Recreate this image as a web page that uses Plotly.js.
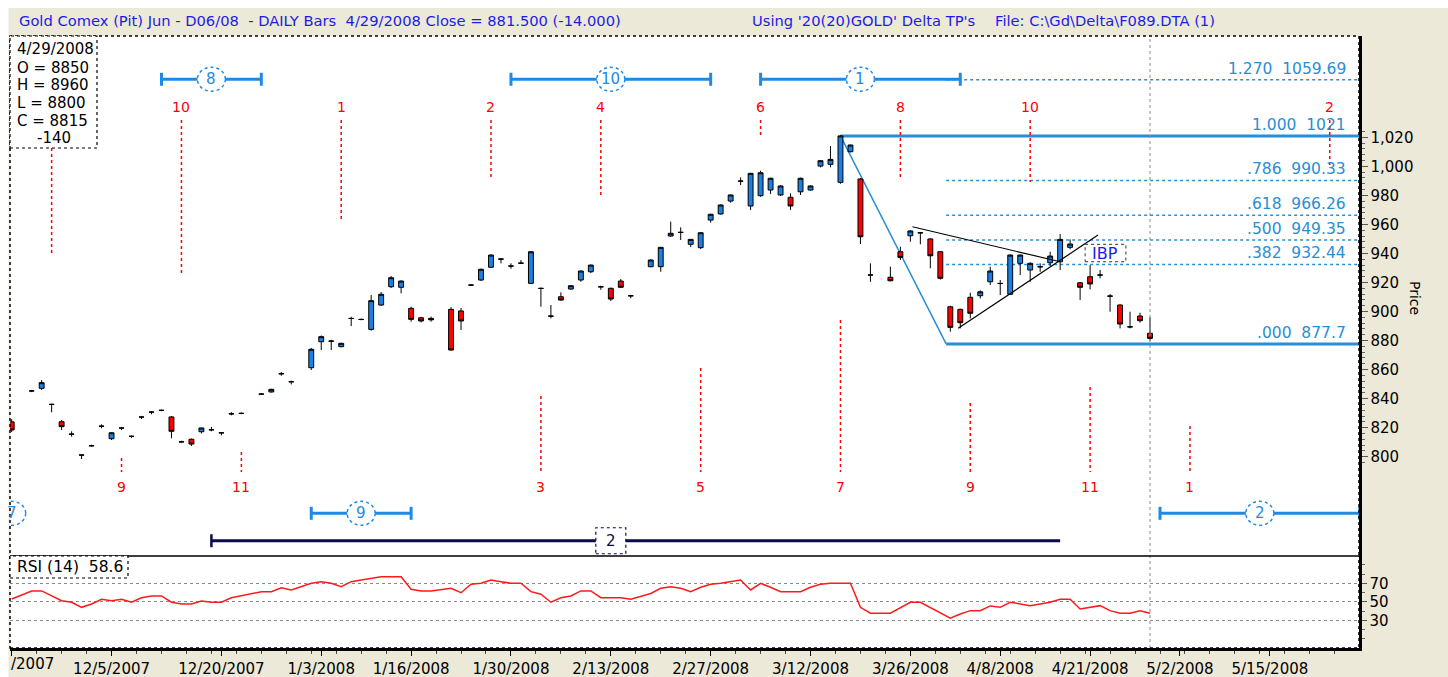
<!DOCTYPE html>
<html><head><meta charset="utf-8">
<script src="https://cdn.plot.ly/plotly-3.0.1.min.js"></script>
<style>html,body{margin:0;padding:0;background:#fff;}#chart{width:1448px;height:677px;}</style>
</head><body><div id="chart"></div>
<script>
// ---------------- DATA ----------------
const dates = ['2007-11-21','2007-11-23','2007-11-26','2007-11-27','2007-11-28','2007-11-29','2007-11-30',
'2007-12-03','2007-12-04','2007-12-05','2007-12-06','2007-12-07',
'2007-12-10','2007-12-11','2007-12-12','2007-12-13','2007-12-14',
'2007-12-17','2007-12-18','2007-12-19','2007-12-20','2007-12-21',
'2007-12-24','2007-12-26','2007-12-27','2007-12-28','2007-12-31',
'2008-01-02','2008-01-03','2008-01-04',
'2008-01-07','2008-01-08','2008-01-09','2008-01-10','2008-01-11',
'2008-01-14','2008-01-15','2008-01-16','2008-01-17','2008-01-18',
'2008-01-22','2008-01-23','2008-01-24','2008-01-25',
'2008-01-28','2008-01-29','2008-01-30','2008-01-31','2008-02-01',
'2008-02-04','2008-02-05','2008-02-06','2008-02-07','2008-02-08',
'2008-02-11','2008-02-12','2008-02-13','2008-02-14','2008-02-15',
'2008-02-19','2008-02-20','2008-02-21','2008-02-22',
'2008-02-25','2008-02-26','2008-02-27','2008-02-28','2008-02-29',
'2008-03-03','2008-03-04','2008-03-05','2008-03-06','2008-03-07',
'2008-03-10','2008-03-11','2008-03-12','2008-03-13','2008-03-14',
'2008-03-17','2008-03-18','2008-03-19','2008-03-20',
'2008-03-24','2008-03-25','2008-03-26','2008-03-27','2008-03-28',
'2008-03-31','2008-04-01','2008-04-02','2008-04-03','2008-04-04',
'2008-04-07','2008-04-08','2008-04-09','2008-04-10','2008-04-11',
'2008-04-14','2008-04-15','2008-04-16','2008-04-17','2008-04-18',
'2008-04-21','2008-04-22','2008-04-23','2008-04-24','2008-04-25',
'2008-04-28','2008-04-29'];

const openP = [824,845.3,847.1,836.1,824.1,815.6,801.2,
807.6,821.1,812.4,819.8,814.1,
827.4,830.8,832,827.4,810.3,
812,817.2,818.6,816.5,829.6,
829.9,843.2,844.6,857.2,851.7,
861.3,879.2,879.7,
875.8,895.3,894.6,887.7,904.5,
917.1,916.7,902.2,895.7,895.3,
901.5,900.4,918.3,921.7,
930.5,936.2,931.4,933.4,919.4,
916,896.9,910.2,915.5,921.7,
927.4,917.1,916,921,910.9,
930.9,930.9,952,954.6,
946.3,944,963,967.2,976.1,
989.9,972.7,979.8,983.7,980.3,
978.7,982.5,983.7,1000.2,1001.4,
989,1010.1,991.3,925.2,
923.6,941.2,952.2,954.3,950,
941.2,903.3,901.5,909.8,910.9,
920.5,919.4,911.9,933.2,928.6,
930.9,933.6,934.3,944.2,919.8,
924,925.2,910.7,904.5,889.5,
896.9,885];

const highP = [826,846,852.8,836.6,825.3,817.5,801.6,
808.3,822.3,817,820.5,814.5,
828.1,831.5,832.5,828,811,
812.5,820,820.5,817,830.7,
830.5,843.8,846.8,858.3,852.4,
874.9,883.5,880.5,
878.5,896.4,895.2,911.4,913.4,
924.5,921.5,903.3,896.4,896.5,
903,902.4,918.8,929.6,
939.5,936.8,933.2,935.5,941.5,
916.5,904.5,913.2,918.2,928.3,
932.4,917.8,916.5,922.4,911.5,
936,944.5,961.9,958,
950,954.6,967.4,973.8,980.6,
992.4,995.5,997,992.2,986.9,
981.4,992.2,986.9,1004.3,1014,
1021.5,1015,992,933.2,
930.9,944.6,956,954.8,950.5,
941.7,904,902,913,914.6,
930.9,921.7,939.5,939.3,934,
933.2,941.2,953.4,949.7,920.3,
932,928.6,912.1,905,899.9,
899.2,896];

const lowP = [817,844.5,846,830.6,818.4,813.8,798.4,
806.8,819.6,811.5,818.4,813,
826,829.2,831.3,812.7,809.6,
807.4,816,817.5,814.7,828.5,
829.3,842.6,844.2,855.8,849.8,
859.7,873.5,873.5,
875.3,890,894,886.8,903.8,
916.2,912.5,893,892.5,893,
873,887.3,917.6,921,
930,933.2,929.5,933,919,
903.3,895.3,907.5,915,920.5,
926.5,915,907.2,916.2,909.2,
930.5,927.4,951.5,949.3,
944.4,943,961.2,966.8,975,
987.1,969.9,979,981,979.6,
970,980.3,983.3,999.3,999.3,
988,1009.6,946.5,920.5,
920.8,935.5,948.1,946.3,929.8,
922,886.1,888.4,895.3,909,
918.3,911.4,911.4,925.2,920.5,
927.4,931.4,928.6,942.9,908,
915.3,922.9,899.9,888.4,888.4,
892.3,880];

const closeP = [818.4,845.3,851,836,820.7,815.5,801.1,
807.5,821,816.5,819.7,814,
827.3,830.7,831.9,817.5,810.2,
808.7,819.8,818.5,816.4,829.5,
829.8,843.1,846.4,857.1,851.6,
874,882.7,879.6,
878.1,895.2,894.5,907.5,911.9,
923.3,921,894.6,893.5,894.3,
873.5,893.5,918.2,929.1,
938.9,936.1,931.3,933.3,941.2,
915.9,896.8,907.9,917.8,927.9,
932,917,908.6,916.7,910.8,
935.5,944.2,953.9,954.5,
949.7,954.3,967,973.4,980.3,
989.8,995.2,995.6,991.8,986.5,
972.7,991.8,986.5,1003.9,1004.8,
1021,1014.7,951.5,925.1,
921.2,937.3,955.5,954.2,938.4,
922.9,889.1,892.3,898.8,913.6,
927.9,919.3,938.9,938.9,933.2,
930.8,938.2,949.7,946.5,916.7,
919,925.1,910.6,891.4,889.4,
893.7,881.5];

const rsi14 = [53,61.7,61.7,56,51.2,49.5,44,
47.6,52.7,51.2,52.7,49.5,
54.4,56.3,56.3,49.5,47.6,
47.6,50.9,49.5,49.5,54.4,
56.3,60.9,60.9,65.2,62.8,
70,71.7,70,
66.3,71.7,73.6,75.4,77.1,
77.1,77.1,63.5,61.7,61.7,
64.6,59.8,68.9,70,
73.6,71.7,70,70,60.9,
58.1,49.5,54.4,56.3,61.7,
61.7,54.4,54.4,54.4,52.7,
59,64.6,66.3,64.6,
60.9,65.7,68.9,70,71.7,
73.6,62.8,70,65.7,60.9,
60.9,60.9,65.7,68.9,70,
70,70,44,37.6,
37.6,44,49.5,49.5,44,
38.2,32.2,36.8,40.4,40.4,
45.5,44,49.5,47.6,45.8,
47.6,49.5,52.7,52.7,42.2,
44,45.8,40.4,37.6,37.6,
40.4,37.6];

// x-axis tick labels (the first one is only partly visible in the original: "/2007")
const tickDates  = ['2007-11-21','2007-12-05','2007-12-20','2008-01-03','2008-01-16','2008-01-30','2008-02-13','2008-02-27','2008-03-12','2008-03-26','2008-04-08','2008-04-21','2008-05-02','2008-05-15'];
const tickLabels = ['/2007','12/5/2007','12/20/2007','1/3/2008','1/16/2008','1/30/2008','2/13/2008','2/27/2008','3/12/2008','3/26/2008','4/8/2008','4/21/2008','5/2/2008','5/15/2008'];
const priceTicks = [800,820,840,860,880,900,920,940,960,980,1000,1020];
const rsiTicks = [30,50,70];

// Delta turning points (top row)
const tpTopDates  = ['2007-11-27','2007-12-14','2008-01-07','2008-01-28','2008-02-12','2008-03-05','2008-03-25','2008-04-11','2008-05-23'];
const tpTopLabels = ['','10','1','2','4','6','8','10','2'];
const tpTopFrom   = [1012.6,1031.9,1031.9,1031.9,1031.9,1031.9,1031.9,1031.9,1031.9];
const tpTopTo     = [938.2,925.2,961.7,990.6,980.3,1020.2,992,989.2,1001];
const tpTopLabelY = 1040.9;
// Delta turning points (bottom row)
const tpBotDates  = ['2007-12-06','2007-12-24','2008-02-04','2008-02-26','2008-03-17','2008-04-03','2008-04-21','2008-05-05'];
const tpBotLabels = ['9','11','3','5','7','9','11','1'];
const tpBotTop    = [799.1,803.3,841.8,861.1,894.1,837,848,821.1];
const tpBotBase = 789.5, tpBotLabelY = 779.2;

// cycle brackets
const cycLabels = ['8','10','1','9','2','7'];
const cycStart  = ['2007-12-12','2008-01-30','2008-03-05','2008-01-02','2008-04-30',null];
const cycEnd    = ['2007-12-26','2008-02-27','2008-04-02','2008-01-16','2008-05-28',null];
const cycMid    = ['2007-12-19','2008-02-13','2008-03-19','2008-01-09','2008-05-14','2007-11-21'];
const cycLevel  = [1060,1060,1060,761,761,761];
const navyLabel = '2', navyStart = '2007-12-19', navyEnd = '2008-04-16', navyMid = '2008-02-13', navyLevel = 742.1;

// Fibonacci retracement
const fibLabels = ['1.270','1.000','.786','.618','.500','.382','.000'];
const fibPrices = [1059.69,1021,990.33,966.26,949.35,932.44,877.7];
const fibText   = ['1059.69','1021','990.33','966.26','949.35','932.44','877.7'];
const fibStart  = ['2008-03-31T14:00','2008-03-17','2008-03-31T14:00','2008-03-31T14:00','2008-03-31T14:00','2008-03-31T14:00','2008-03-31T14:00'];
const fibSwing  = [['2008-03-17',1021],['2008-03-31T14:00',877.7]];
const triUpper  = [['2008-03-26T05:00',958.4],['2008-04-16',934.3]];
const triLower  = [['2008-04-01T19:00',888.4],['2008-04-21T19:00',952.7]];
const ibpBox    = {x0:'2008-04-18T12:00', x1:'2008-04-24T14:00', y0:934.3, y1:946.3, text:'IBP'};
const currentDate = '2008-04-29';

const infoLines = ['4/29/2008','O = 8850','H = 8960','L = 8800','C = 8815'];
const infoChange = '-140';
const rsiLabel = 'RSI (14)\u00a0\u00a058.6';
const titleParts = ['Gold Comex (Pit) Jun - D06/08\u00a0\u00a0- DAILY Bars\u00a0\u00a04/29/2008 Close = 881.500 (-14.000)',
  "Using '20(20)GOLD' Delta TP's", 'File: C:\\Gd\\Delta\\F089.DTA (1)'];

// ---------------- helpers ----------------
const BASE = Date.UTC(2007,10,21);
function wd(s){
  const parts = s.split('T');
  const [Y,M,D] = parts[0].split('-').map(Number);
  const t = Date.UTC(Y,M-1,D);
  const isWk = c => { const g = new Date(c).getUTCDay(); return g!==0 && g!==6; };
  let n=0, cur=BASE;
  if (t>=BASE){ while(cur<t){ cur+=864e5; if(isWk(cur)) n++; } }
  else { while(cur>t){ if(isWk(cur)) n--; cur-=864e5; } }
  let frac=0;
  if(parts[1]){ const [h,mi]=parts[1].split(':').map(Number); frac=(h+(mi||0)/60)/24; }
  return n+frac;
}
const W=1448,H=677, ML=10, MR=89, MT=36, MB=29;
const PW=W-ML-MR, PH=H-MT-MB;
const PX = x => (x-ML)/PW;
const PY = y => (H-MB-y)/PH;
const split = PY(556);
const FONT = 'DejaVu Sans';
const BLUE = '#1e8ae6', FIBC = '#2a8ed3', RED = '#ff0000', NAVY = '#0b0b4a', TBLUE = '#1c1ce6';
const pxPerPrice = 1.4518, pxPerDay = 9.985;

const xi = dates.map(wd);

const traces = [
 {type:'candlestick', x:xi, open:openP, high:highP, low:lowP, close:closeP, xaxis:'x', yaxis:'y',
  increasing:{fillcolor:'#1a80e8', line:{color:'#000', width:1}},
  decreasing:{fillcolor:'#ff0000', line:{color:'#000', width:1}},
  whiskerwidth:0, hoverinfo:'skip', showlegend:false},
 {type:'scatter', mode:'lines', x:xi, y:rsi14, xaxis:'x', yaxis:'y2',
  line:{color:'#ff1a1a', width:1.5}, hoverinfo:'skip', showlegend:false}
];

const shapes = [], ann = [];
function line(x0,y0,x1,y1,color,width,dash,layer,refs){
  shapes.push(Object.assign({type:'line', xref:'x', yref:'y', x0,y0,x1,y1,
    line:{color, width, dash:dash||'solid'}, layer:layer||'above'}, refs||{}));
}
function text(x,y,t,size,color,opts){
  ann.push(Object.assign({x,y,text:t,showarrow:false,xref:'x',yref:'y',
    font:{family:FONT,size,color}}, opts||{}));
}

// fib lines (behind candles)
fibPrices.forEach((p,k)=>{
  const thick = (fibLabels[k]==='1.000' || fibLabels[k]==='.000');
  line(wd(fibStart[k]), p, 140, p, FIBC, thick?3:1.5, thick?'solid':'dot', 'below');
  ann.push({xref:'paper', yref:'y', x:PX(1348), y:p, xanchor:'right', yanchor:'bottom', yshift:0,
    text: fibLabels[k]+'\u00a0\u00a0'+fibText[k], showarrow:false, font:{family:FONT,size:15.5,color:FIBC}});
});
line(wd(fibSwing[0][0]), fibSwing[0][1], wd(fibSwing[1][0]), fibSwing[1][1], FIBC, 1.5, 'solid', 'below');
line(wd(triUpper[0][0]), triUpper[0][1], wd(triUpper[1][0]), triUpper[1][1], '#000', 1.2, 'solid', 'above');
line(wd(triLower[0][0]), triLower[0][1], wd(triLower[1][0]), triLower[1][1], '#000', 1.2, 'solid', 'above');

// IBP box
shapes.push({type:'rect', xref:'x', yref:'y', x0:wd(ibpBox.x0), x1:wd(ibpBox.x1), y0:ibpBox.y0, y1:ibpBox.y1,
  fillcolor:'#fff', line:{color:'#333', width:1, dash:'dot'}, layer:'above'});
text((wd(ibpBox.x0)+wd(ibpBox.x1))/2, (ibpBox.y0+ibpBox.y1)/2, ibpBox.text, 16, TBLUE);

// turning point lines
tpTopDates.forEach((d,k)=>{
  const x = wd(d);
  line(x, tpTopFrom[k], x, tpTopTo[k], RED, 1.5, 'dot');
  if (tpTopLabels[k]) text(x, tpTopLabelY, tpTopLabels[k], 14, RED);
});
tpBotDates.forEach((d,k)=>{
  const x = wd(d);
  line(x, tpBotTop[k], x, tpBotBase, RED, 1.5, 'dot');
  text(x, tpBotLabelY, tpBotLabels[k], 14, RED);
});

// cycle brackets
const capH = 6.5/pxPerPrice, cirW = 14/pxPerDay, cirH = 12/pxPerPrice;
cycLabels.forEach((lab,k)=>{
  const y = cycLevel[k];
  if (cycStart[k]){
    const a = wd(cycStart[k]), b = wd(cycEnd[k]);
    line(a, y, b, y, BLUE, 3);
    line(a, y-capH, a, y+capH, BLUE, 3);
    line(b, y-capH, b, y+capH, BLUE, 3);
  }
  const m = wd(cycMid[k]);
  shapes.push({type:'circle', xref:'x', yref:'y', x0:m-cirW, x1:m+cirW, y0:y-cirH, y1:y+cirH,
    fillcolor:'#fff', line:{color:BLUE, width:1.5, dash:'dot'}, layer:'above'});
  text(m, y, lab, 15, BLUE);
});
{
  const a = wd(navyStart), b = wd(navyEnd), m = wd(navyMid), y = navyLevel;
  line(a, y, b, y, NAVY, 3);
  line(a, y-capH, a, y+capH, NAVY, 2.5);
  const bw = 15/pxPerDay, bh = 13/pxPerPrice;
  shapes.push({type:'rect', xref:'x', yref:'y', x0:m-bw, x1:m+bw, y0:y-bh, y1:y+bh,
    fillcolor:'#fff', line:{color:NAVY, width:1.2, dash:'dot'}, layer:'above'});
  text(m, y, navyLabel, 15, NAVY);
}

// current date line
shapes.push({type:'line', xref:'x', yref:'paper', x0:wd(currentDate), x1:wd(currentDate), y0:0, y1:1,
  line:{color:'#8a8a8a', width:1, dash:'dot'}, layer:'above'});

// panel borders
shapes.push({type:'rect', xref:'paper', yref:'paper', x0:0, x1:1, y0:split, y1:1, line:{color:'#000', width:1.5, dash:'dot'}, layer:'above'});
shapes.push({type:'rect', xref:'paper', yref:'paper', x0:0, x1:1, y0:0, y1:split, line:{color:'#000', width:1.5, dash:'dot'}, layer:'above'});

// info box
shapes.push({type:'rect', xref:'paper', yref:'paper', x0:PX(10), x1:PX(97), y0:PY(148), y1:PY(36),
  fillcolor:'#fff', line:{color:'#000', width:1.2, dash:'dot'}, layer:'above'});
const infoY = [49,67.5,85,103,121];
infoLines.forEach((t,k)=>ann.push({xref:'paper', yref:'paper', x:PX(15), y:PY(infoY[k]), xanchor:'left', yanchor:'middle',
  text:t, showarrow:false, font:{family:FONT,size:15,color:'#000'}}));
ann.push({xref:'paper', yref:'paper', x:PX(54), y:PY(138.5), xanchor:'center', yanchor:'middle', text:infoChange, showarrow:false, font:{family:FONT,size:15,color:'#000'}});

// RSI label box
shapes.push({type:'rect', xref:'paper', yref:'paper', x0:PX(10), x1:PX(128), y0:PY(578), y1:PY(556),
  fillcolor:'#fff', line:{color:'#000', width:1.2, dash:'dot'}, layer:'above'});
ann.push({xref:'paper', yref:'paper', x:PX(15), y:PY(567), xanchor:'left', yanchor:'middle', text:rsiLabel, showarrow:false, font:{family:FONT,size:15.5,color:'#000'}});

// outer white frame
shapes.push({type:'rect', xref:'paper', yref:'paper', x0:PX(0), x1:PX(8.5), y0:PY(677), y1:PY(0), fillcolor:'#fff', line:{width:0}, layer:'above'});
shapes.push({type:'rect', xref:'paper', yref:'paper', x0:PX(0), x1:PX(1448), y0:PY(8), y1:PY(0), fillcolor:'#fff', line:{width:0}, layer:'above'});

// first (partly visible) x label, drawn left-aligned at the panel edge
ann.push({xref:'paper', yref:'paper', x:PX(9), y:PY(664), xanchor:'left', yanchor:'middle', text:tickLabels[0],
  showarrow:false, font:{family:FONT,size:15,color:'#000'}});

// title bar texts
const titleX = [17,750,993];
titleParts.forEach((t,k)=>ann.push({xref:'paper', yref:'paper', x:PX(titleX[k]), y:PY(20), xanchor:'left', yanchor:'middle',
  text:t, showarrow:false, font:{family:FONT,size:14.7,color:TBLUE}}));
// Price axis title
ann.push({xref:'paper', yref:'paper', x:PX(1425), y:PY(298), text:'Price', textangle:90, showarrow:false, font:{family:FONT,size:14,color:'#000'}});

const minorPrice = []; for(let v=796; v<=1024; v+=4) if(v%20) minorPrice.push(v);

const layout = {
  width:W, height:H, margin:{l:ML, r:MR, t:MT, b:MB, pad:0},
  paper_bgcolor:'#ECE9D8', plot_bgcolor:'#ffffff', showlegend:false, hovermode:false, dragmode:false,
  xaxis:{anchor:'y2', range:[-0.17,134.93], tickmode:'array', tickvals:tickDates.map(wd),
    ticktext:tickLabels.map((t,k)=>k===0?'':t),
    ticks:'outside', ticklen:5, tickcolor:'#000', showgrid:false, zeroline:false, showline:true, linecolor:'#000', linewidth:2.5,
    tickfont:{family:FONT,size:15,color:'#000'}, rangeslider:{visible:false}, fixedrange:true,
    minor:{tickmode:'linear', tick0:0, dtick:2.5, ticks:'outside', ticklen:3, tickcolor:'#444'}},
  yaxis:{domain:[split,1], range:[731.6,1089.8], side:'right', anchor:'x', tickmode:'array', tickvals:priceTicks,
    ticktext:priceTicks.map(v=>v.toLocaleString('en-US')), ticks:'outside', ticklen:6, tickcolor:'#555',
    showgrid:false, zeroline:false, showline:true, linecolor:'#000', linewidth:2.5, fixedrange:true,
    tickfont:{family:FONT,size:15,color:'#000'},
    minor:{tickmode:'array', tickvals:minorPrice, ticks:'outside', ticklen:3, tickcolor:'#666'}},
  yaxis2:{domain:[0,split], range:[0,99.5], side:'right', anchor:'x', tickmode:'array', tickvals:rsiTicks,
    ticks:'outside', ticklen:5, tickcolor:'#555', showgrid:true, gridcolor:'#8a8a8a', griddash:'dot', gridwidth:1.2,
    zeroline:false, showline:true, linecolor:'#000', linewidth:2.5, fixedrange:true,
    tickfont:{family:FONT,size:15,color:'#000'},
    minor:{tickmode:'array', tickvals:[10,20,40,60,80,90], ticks:'outside', ticklen:3, tickcolor:'#666'}},
  shapes, annotations:ann
};
Plotly.newPlot('chart', traces, layout, {staticPlot:true, displayModeBar:false});
</script></body></html>
